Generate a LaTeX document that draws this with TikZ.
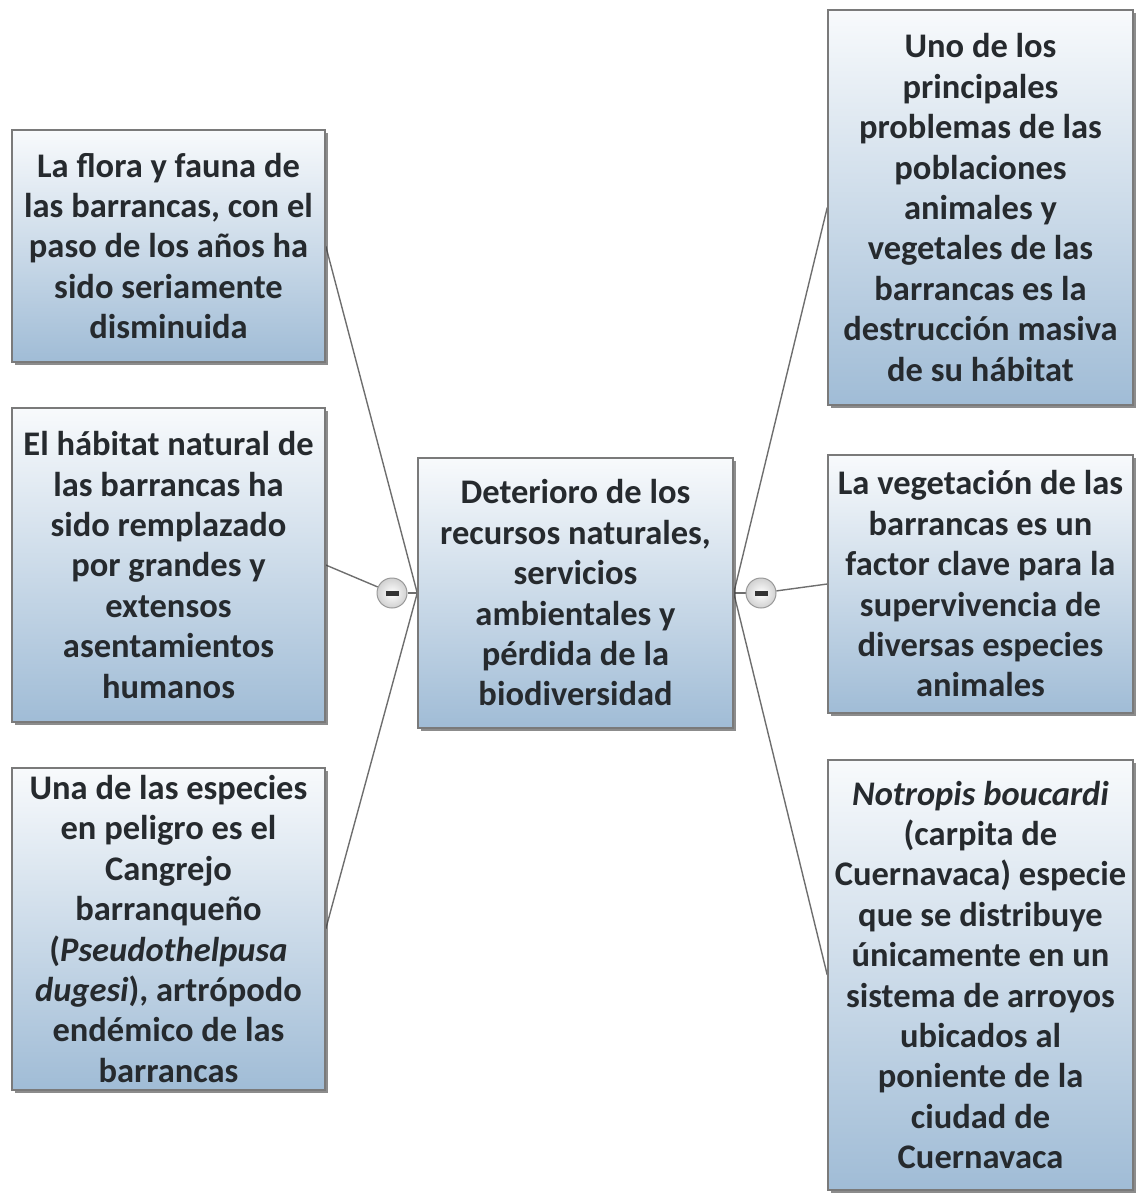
\documentclass[tikz,border=0pt]{standalone}
\usepackage{fontspec}
\setmainfont{Carlito}
\usetikzlibrary{shadows,backgrounds}
\definecolor{boxtop}{HTML}{F8FAFC}
\definecolor{boxmid}{HTML}{D9E5EF}
\definecolor{boxbot}{HTML}{A0BCD6}
\definecolor{boxline}{HTML}{7A7A7A}
\definecolor{txt}{HTML}{262A2E}
\definecolor{conn}{HTML}{6E6E6E}
\begin{document}
\begin{tikzpicture}[x=1pt,y=-1pt,
  box/.style={draw=boxline, line width=1.5pt, top color=boxtop, middle color=boxmid, bottom color=boxbot,
    drop shadow={shadow xshift=3pt, shadow yshift=-3pt, opacity=0.6, fill=black!75},
    align=center, inner sep=0pt, text=txt, font=\bfseries\fontsize{34.5}{40.4}\selectfont},
  minus/.style={circle, draw=black!40, line width=1pt, inner color=white, outer color=black!18,
    minimum size=30pt, inner sep=0pt},
  link/.style={draw=conn, line width=1.4pt}]
\useasboundingbox (0,0) rectangle (1135,1199);

\node[box, minimum width=313pt, minimum height=232pt] (L1) at (168.5,246)
  {La flora y fauna de\\las barrancas, con el\\paso de los años ha\\sido seriamente\\disminuida};
\node[box, minimum width=313pt, minimum height=314pt] (L2) at (168.5,565)
  {El hábitat natural de\\las barrancas ha\\sido remplazado\\por grandes y\\extensos\\asentamientos\\humanos};
\node[box, minimum width=313pt, minimum height=322pt] (L3) at (168.5,929)
  {Una de las especies\\en peligro es el\\Cangrejo\\barranqueño\\(\textit{Pseudothelpusa}\\\textit{dugesi}), artrópodo\\endémico de las\\barrancas};
\node[box, minimum width=315pt, minimum height=270pt] (C) at (575.5,593)
  {Deterioro de los\\recursos naturales,\\servicios\\ambientales y\\pérdida de la\\biodiversidad};
\node[box, minimum width=305pt, minimum height=395pt] (R1) at (980.5,207.5)
  {Uno de los\\principales\\problemas de las\\poblaciones\\animales y\\vegetales de las\\barrancas es la\\destrucción masiva\\de su hábitat};
\node[box, minimum width=305pt, minimum height=258pt] (R2) at (980.5,584)
  {La vegetación de las\\barrancas es un\\factor clave para la\\supervivencia de\\diversas especies\\animales};
\node[box, minimum width=305pt, minimum height=430pt] (R3) at (980.5,975)
  {\textit{Notropis boucardi}\\(carpita de\\Cuernavaca) especie\\que se distribuye\\únicamente en un\\sistema de arroyos\\ubicados al\\poniente de la\\ciudad de\\Cuernavaca};

\node[minus] (ml) at (392,593) {};
\node[minus] (mr) at (761,593) {};
\fill[black!80] ([xshift=-6.5pt,yshift=-2.5pt]ml.center) rectangle ([xshift=6.5pt,yshift=2.5pt]ml.center);
\fill[black!80] ([xshift=-6.5pt,yshift=-2.5pt]mr.center) rectangle ([xshift=6.5pt,yshift=2.5pt]mr.center);

\begin{scope}[on background layer]
\path[link] (L1.east) -- (C.west);
\path[link] (L3.east) -- (C.west);
\path[link] (L2.east) -- (ml);
\path[link] (ml) -- (C.west);
\path[link] (R1.west) -- (C.east);
\path[link] (R3.west) -- (C.east);
\path[link] (R2.west) -- (mr);
\path[link] (mr) -- (C.east);
\end{scope}
\end{tikzpicture}
\end{document}
